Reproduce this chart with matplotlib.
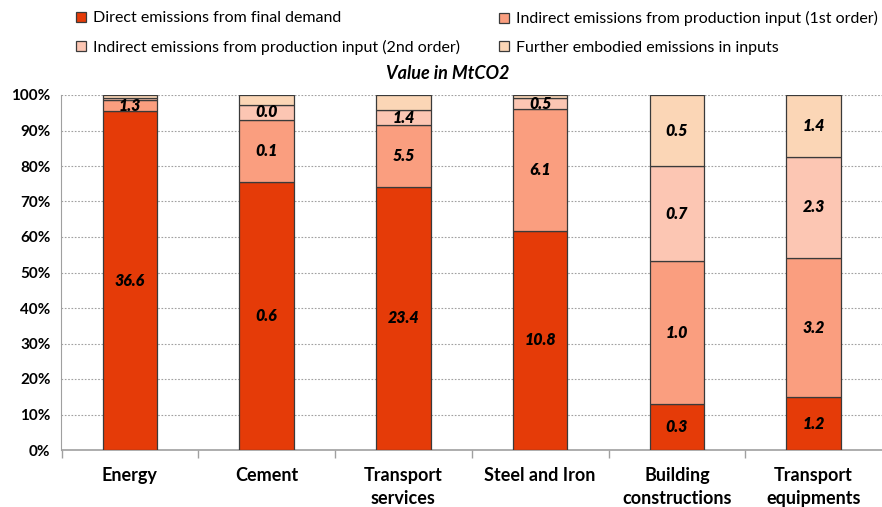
import matplotlib
matplotlib.use("Agg")
import matplotlib.pyplot as plt
import numpy as np

plt.rcParams['font.family'] = ['Lato', 'DejaVu Sans']

categories = ["Energy", "Cement", "Transport\nservices", "Steel and Iron",
              "Building\nconstructions", "Transport\nequipments"]

series_names = ["Direct emissions from final demand",
                "Indirect emissions from production input (1st order)",
                "Indirect emissions from production input (2nd order)",
                "Further embodied emissions in inputs"]

# shares in %
direct_pct = [95.4, 75.6, 74.1, 61.7, 12.9, 14.8]
ind1_pct = [3.1, 17.4, 17.4, 34.4, 40.3, 39.4]
ind2_pct = [0.7, 4.3, 4.3, 3.0, 26.8, 28.3]
further_pct = [0.8, 2.7, 4.2, 0.9, 20.0, 17.5]

# value labels in MtCO2 (None = not shown)
direct_lbl = ["36.6", "0.6", "23.4", "10.8", "0.3", "1.2"]
ind1_lbl = ["1.3", "0.1", "5.5", "6.1", "1.0", "3.2"]
ind2_lbl = [None, "0.0", "1.4", "0.5", "0.7", "2.3"]
further_lbl = [None, None, None, None, "0.5", "1.4"]

colors = ["#E53B08", "#FA9E7F", "#FCC6B3", "#FBD6B6"]

fig = plt.figure(figsize=(8.82, 5.07), dpi=100)
ax = fig.add_axes([61.5/882, 57/507, (882-61.5)/882, (450-95)/507])

x = np.arange(len(categories))
bottom = np.zeros(len(categories))
all_pct = [direct_pct, ind1_pct, ind2_pct, further_pct]
all_lbl = [direct_lbl, ind1_lbl, ind2_lbl, further_lbl]
for vals, lbls, col, name in zip(all_pct, all_lbl, colors, series_names):
    vals = np.array(vals)
    ax.bar(x, vals, width=0.4, bottom=bottom, color=col, edgecolor="#3a3a3a",
           linewidth=0.9, label=name, zorder=3)
    for i, l in enumerate(lbls):
        if l is not None:
            ax.text(x[i], bottom[i] + vals[i] / 2, l, ha="center", va="center",
                    fontsize=11.5, fontweight="heavy", fontstyle="italic",
                    color="black", zorder=4)
    bottom += vals

ax.set_xlim(-0.5, len(categories) - 0.5)
ax.set_ylim(0, 100)
ax.set_yticks(np.arange(0, 101, 10))
ax.set_yticklabels(["{}%".format(v) for v in range(0, 101, 10)],
                   fontsize=11, fontweight="bold")
ax.yaxis.grid(True, linestyle=(0, (1.5, 1.5)), color="#a0a0a0", linewidth=0.8, zorder=0)
ax.tick_params(axis="y", length=0, pad=8)

ax.set_xticks(x)
ax.set_xticklabels(categories, fontsize=13, fontweight="bold", linespacing=1.45)
ax.tick_params(axis="x", length=0, pad=12)
ax.set_xticks(np.arange(-0.5, len(categories) - 0.5, 1), minor=True)
ax.tick_params(axis="x", which="minor", length=6, color="#a0a0a0", width=1)

for s in ["top", "right"]:
    ax.spines[s].set_visible(False)
ax.spines["left"].set_color("#a0a0a0")
ax.spines["bottom"].set_color("#a0a0a0")
ax.spines["bottom"].set_linewidth(1.2)

handles, labels = ax.get_legend_handles_labels()
leg_kw = dict(loc="upper left", frameon=False, prop={"size": 11.5},
              handlelength=0.6, handleheight=0.6, handletextpad=0.45,
              labelspacing=0.9, borderaxespad=0)
fig.legend([handles[0], handles[2]], [labels[0], labels[2]],
           bbox_to_anchor=(70/882, 1 - 5/507), **leg_kw)
fig.legend([handles[1], handles[3]], [labels[1], labels[3]],
           bbox_to_anchor=(493/882, 1 - 5/507), **leg_kw)

fig.text(0.508, 1 - 73/507, "Value in MtCO2", ha="center", va="center",
         fontsize=13, fontweight="bold", fontstyle="italic")

fig.savefig("out.png", dpi=100)
